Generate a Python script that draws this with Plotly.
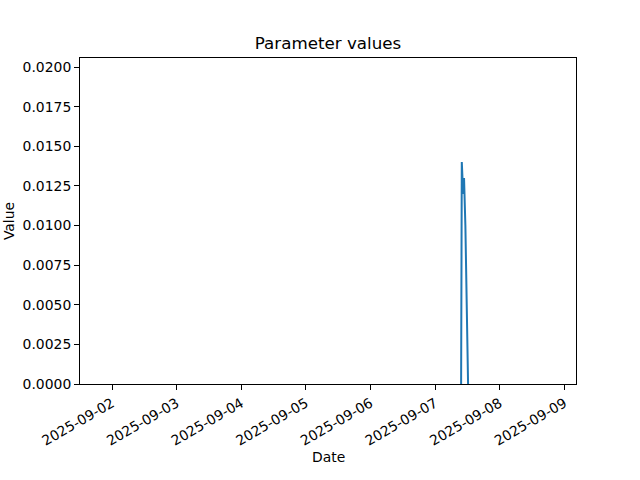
import plotly.graph_objects as go

dates = ["2025-09-07 09:40", "2025-09-07 09:55", "2025-09-07 10:25",
         "2025-09-07 10:45", "2025-09-07 11:15", "2025-09-07 12:15"]
values = [0.0, 0.014, 0.012, 0.013, 0.010, 0.0]

x_range = ["2025-09-01 12:07", "2025-09-09 04:20"]
y_range = [0, 0.02057]
y_ticks = [0.0, 0.0025, 0.005, 0.0075, 0.01, 0.0125, 0.015, 0.0175, 0.02]

fig = go.Figure(go.Scatter(x=dates, y=values, mode="lines",
                           line=dict(color="#1f77b4", width=2)))

font = dict(family="DejaVu Sans", size=13.9, color="black")
fig.update_layout(
    width=640, height=480,
    margin=dict(l=80, r=64, t=58, b=96),
    paper_bgcolor="white", plot_bgcolor="white",
    font=font,
    showlegend=False,
    title=dict(text="Parameter values", xref="paper", x=0.5, xanchor="center",
               y=1 - 43 / 480, yanchor="middle",
               font=dict(family="DejaVu Sans", size=16.7, color="black")),
    annotations=[
        dict(text="Value", xref="paper", yref="paper", x=-0.143, y=0.5,
             xanchor="center", yanchor="middle", textangle=-90,
             showarrow=False, font=font),
        dict(text="Date", xref="paper", yref="paper", x=0.5, y=-0.224,
             xanchor="center", yanchor="middle",
             showarrow=False, font=font),
    ],
)
fig.update_xaxes(
    range=x_range, type="date", automargin=False,
    tick0="2025-09-02", dtick=86400000, tickformat="%Y-%m-%d",
    tickfont=font,
    tickangle=-30, ticks="outside", ticklen=5, tickcolor="black",
    showline=True, linecolor="black", linewidth=1, mirror=True,
    showgrid=False, zeroline=False,
)
fig.update_yaxes(
    range=y_range, tickvals=y_ticks, automargin=False,
    ticktext=[f"{v:.4f}" for v in y_ticks],
    tickfont=font,
    ticks="outside", ticklen=5, tickcolor="black",
    showline=True, linecolor="black", linewidth=1, mirror=True,
    showgrid=False, zeroline=False,
)
fig.write_html("out.html", config={"displayModeBar": False},
               post_script="document.body.style.margin='0';")
